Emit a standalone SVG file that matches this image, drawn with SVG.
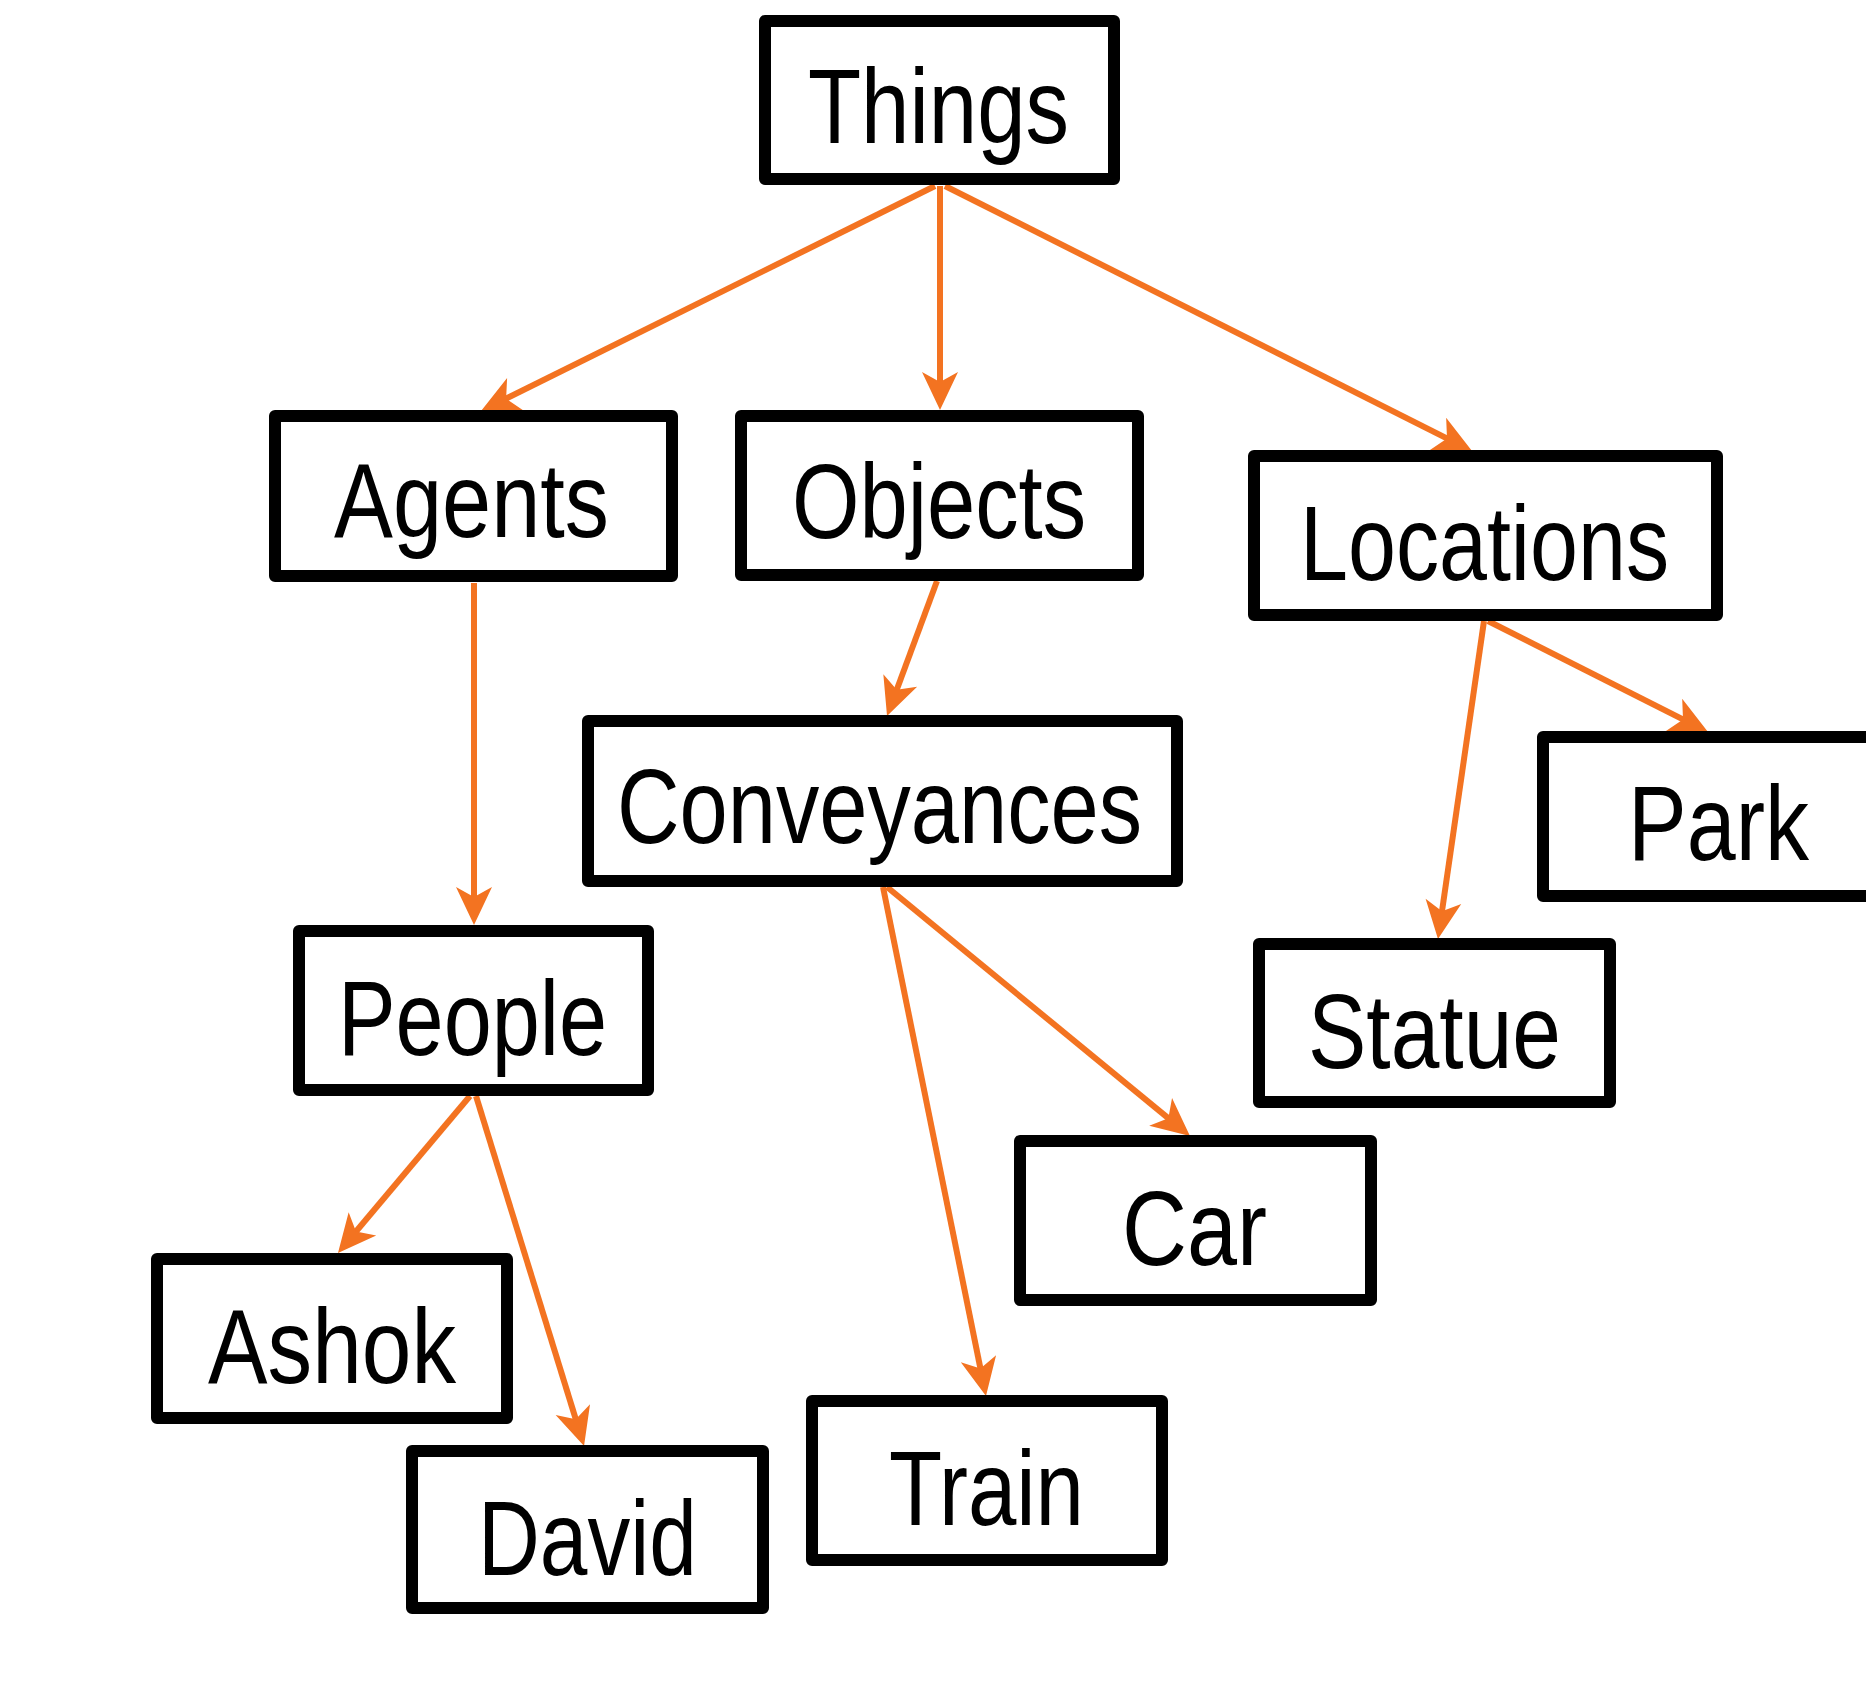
<svg xmlns="http://www.w3.org/2000/svg" width="1866" height="1687" viewBox="0 0 1866 1687">
<style>
.box{fill:#ffffff;stroke:#000000;stroke-width:12;stroke-linejoin:round}
.lbl{font-family:"Liberation Sans",Arial,sans-serif;font-size:106px;fill:#000000}
.edge{stroke:#F37321;stroke-width:6;fill:none}
</style>
<defs>
<marker id="arr" markerUnits="userSpaceOnUse" markerWidth="48" markerHeight="48" refX="0" refY="0" orient="auto" overflow="visible">
<path d="M12,0 L-26,-18 L-16,0 L-26,18 Z" fill="#F37321"/>
</marker>
</defs>
<rect x="0" y="0" width="1866" height="1687" fill="#ffffff"/>
<g id="connectors">
<line class="edge" x1="935" y1="186" x2="491.8" y2="405.7" marker-end="url(#arr)"/>
<line class="edge" x1="940" y1="186" x2="940" y2="398" marker-end="url(#arr)"/>
<line class="edge" x1="945" y1="186" x2="1461.3" y2="445.6" marker-end="url(#arr)"/>
<line class="edge" x1="474" y1="583" x2="474" y2="913" marker-end="url(#arr)"/>
<line class="edge" x1="937" y1="581" x2="891.2" y2="704.8" marker-end="url(#arr)"/>
<line class="edge" x1="1484" y1="621" x2="1439.7" y2="927.1" marker-end="url(#arr)"/>
<line class="edge" x1="1488" y1="621" x2="1697.3" y2="726.6" marker-end="url(#arr)"/>
<line class="edge" x1="887" y1="887" x2="1180.7" y2="1128.4" marker-end="url(#arr)"/>
<line class="edge" x1="883" y1="887" x2="983.6" y2="1384.2" marker-end="url(#arr)"/>
<line class="edge" x1="470" y1="1096" x2="345.7" y2="1243.8" marker-end="url(#arr)"/>
<line class="edge" x1="476" y1="1096" x2="580.5" y2="1434.5" marker-end="url(#arr)"/>
</g>
<g id="things"><rect class="box" x="765" y="21" width="349" height="158"/><text class="lbl" x="808" y="143" textLength="261" lengthAdjust="spacingAndGlyphs">Things</text></g>
<g id="agents"><rect class="box" x="275" y="416" width="397" height="160"/><text class="lbl" x="334" y="537" textLength="275" lengthAdjust="spacingAndGlyphs">Agents</text></g>
<g id="objects"><rect class="box" x="741" y="416" width="397" height="159"/><text class="lbl" x="792" y="538" textLength="294" lengthAdjust="spacingAndGlyphs">Objects</text></g>
<g id="locations"><rect class="box" x="1254" y="456" width="463" height="159"/><text class="lbl" x="1300" y="580" textLength="369" lengthAdjust="spacingAndGlyphs">Locations</text></g>
<g id="conveyances"><rect class="box" x="588" y="721" width="589" height="160"/><text class="lbl" x="617" y="843" textLength="525" lengthAdjust="spacingAndGlyphs">Conveyances</text></g>
<g id="park"><rect class="box" x="1543" y="737" width="400" height="159"/><text class="lbl" x="1628" y="860" textLength="181" lengthAdjust="spacingAndGlyphs">Park</text></g>
<g id="people"><rect class="box" x="299" y="931" width="349" height="159"/><text class="lbl" x="338" y="1055" textLength="269" lengthAdjust="spacingAndGlyphs">People</text></g>
<g id="statue"><rect class="box" x="1259" y="944" width="351" height="158"/><text class="lbl" x="1308" y="1068" textLength="253" lengthAdjust="spacingAndGlyphs">Statue</text></g>
<g id="car"><rect class="box" x="1020" y="1141" width="351" height="159"/><text class="lbl" x="1122" y="1265" textLength="145" lengthAdjust="spacingAndGlyphs">Car</text></g>
<g id="ashok"><rect class="box" x="157" y="1259" width="350" height="159"/><text class="lbl" x="208" y="1383" textLength="248" lengthAdjust="spacingAndGlyphs">Ashok</text></g>
<g id="train"><rect class="box" x="812" y="1401" width="350" height="159"/><text class="lbl" x="889" y="1525" textLength="195" lengthAdjust="spacingAndGlyphs">Train</text></g>
<g id="david"><rect class="box" x="412" y="1451" width="351" height="157"/><text class="lbl" x="478" y="1575" textLength="219" lengthAdjust="spacingAndGlyphs">David</text></g>
</svg>
